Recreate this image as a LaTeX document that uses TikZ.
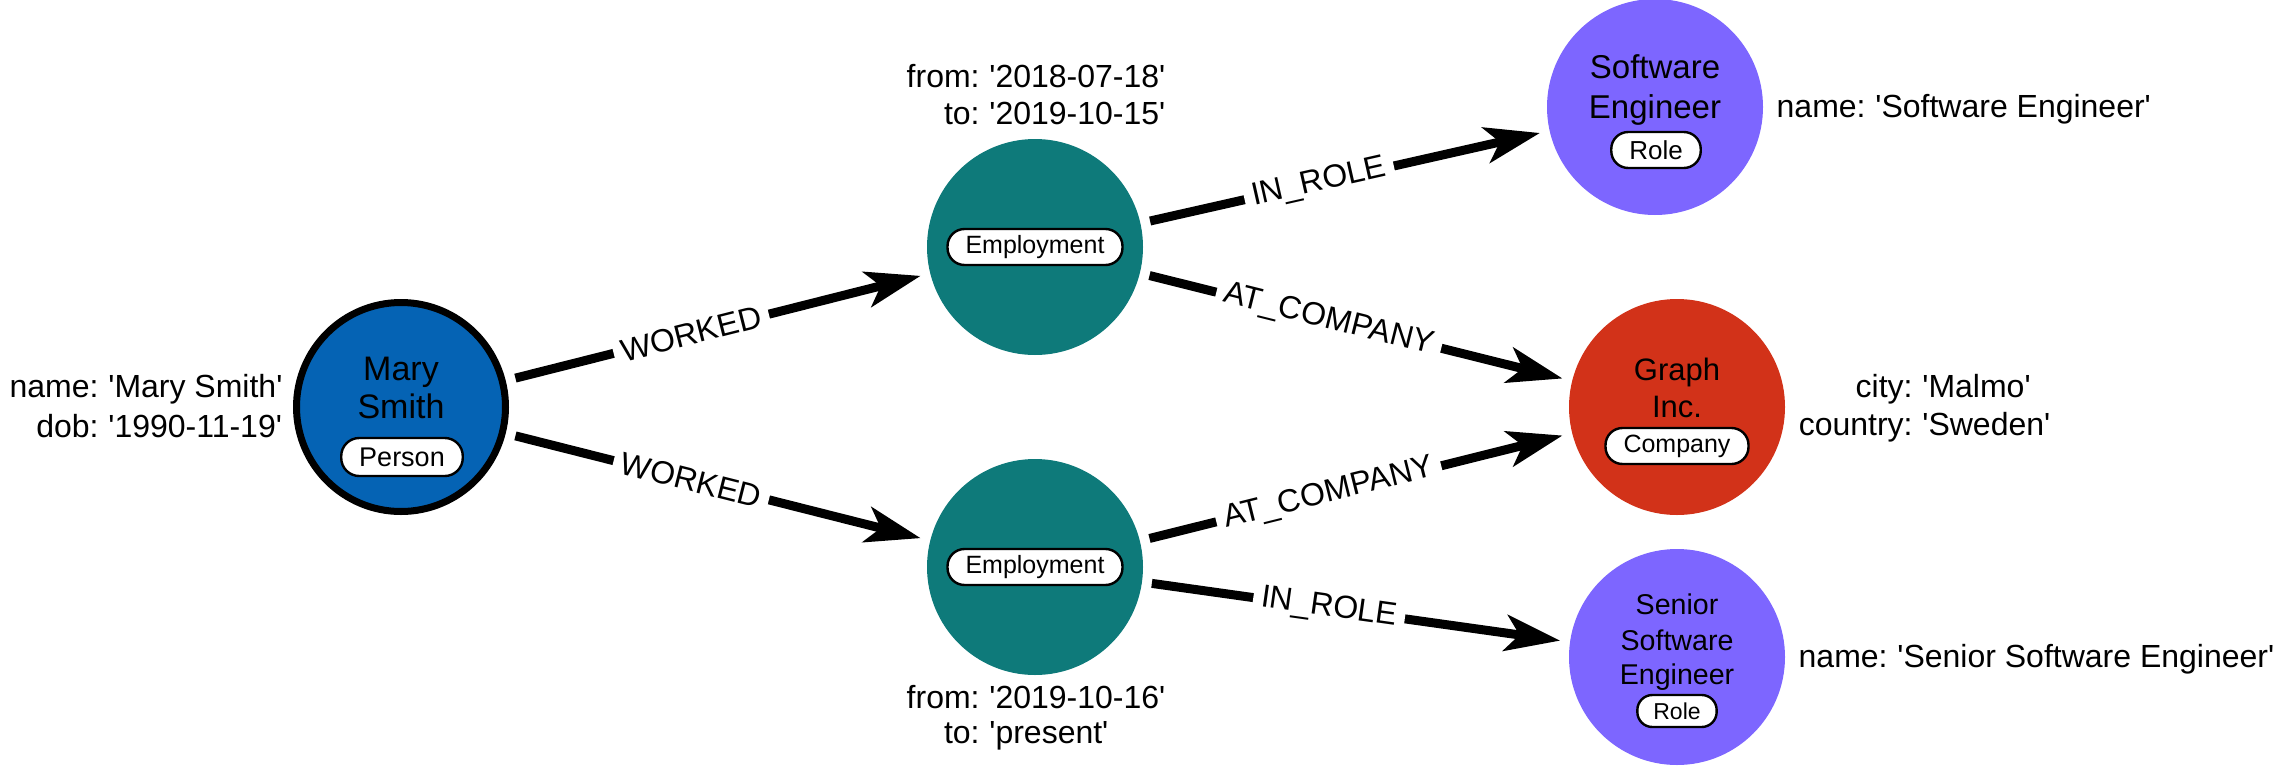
\documentclass[tikz,border=0pt]{standalone}
\usepackage{fontspec}
\setmainfont{Liberation Sans}
\usetikzlibrary{arrows.meta}
\definecolor{personblue}{HTML}{0563B4}
\definecolor{empteal}{HTML}{0E7A7A}
\definecolor{rolepurple}{HTML}{7D66FF}
\definecolor{companyred}{HTML}{D23219}
\newcommand{\sq}{\textquotesingle}
\begin{document}
\begin{tikzpicture}[x=0.5pt,y=-0.5pt,
  ent/.style={circle, inner sep=0pt, outer sep=0pt, minimum size=108pt},
  ttl/.style={inner sep=0pt, anchor=base, font=\fontsize{17}{20}\selectfont},
  badge/.style={draw, line width=1.2pt, fill=white, rounded corners=8.5pt, minimum height=18pt, inner xsep=9pt, inner ysep=0pt, font=\fontsize{13}{15}\selectfont},
  key/.style={inner sep=0pt, anchor=base east, font=\fontsize{16}{19}\selectfont},
  val/.style={inner sep=0pt, anchor=base west, font=\fontsize{16}{19}\selectfont},
  rel/.style={line width=4.5pt, -{Stealth[length=27.5pt, width=18pt, inset=7pt]}, shorten <=5pt, shorten >=5pt},
  lbl/.style={sloped, fill=white, inner xsep=4pt, inner ysep=2pt, pos=0.437, font=\fontsize{16}{19}\selectfont}
]
\useasboundingbox (0,0) rectangle (2282,766);

% Person
\node[ent, fill=personblue, draw=black, line width=3.5pt, outer sep=1.75pt, minimum size=104.5pt] (mary) at (401,407) {};
\node[ttl] (maryT1) at (401,380) {Mary};
\node[ttl] (maryT2) at (401,418) {Smith};
\node[badge, font=\fontsize{13.5}{15}\selectfont, minimum height=19pt, rounded corners=9pt] (maryB) at (402,457) {Person};
\node[key] (maryK1) at (99,397) {name:};
\node[val] (maryV1) at (108,397) {\sq Mary Smith\sq};
\node[key] (maryK2) at (99,437) {dob:};
\node[val] (maryV2) at (108,437) {\sq 1990-11-19\sq};

% Employment 1
\node[ent, fill=empteal] (emp1) at (1035,247) {};
\node[badge, font=\fontsize{12.5}{15}\selectfont] (emp1B) at (1035,247) {Employment};
\node[key] (emp1K1) at (980,87) {from:};
\node[val] (emp1V1) at (989,87) {\sq 2018-07-18\sq};
\node[key] (emp1K2) at (980,124) {to:};
\node[val] (emp1V2) at (989,124) {\sq 2019-10-15\sq};

% Employment 2
\node[ent, fill=empteal] (emp2) at (1035,567) {};
\node[badge, font=\fontsize{12.5}{15}\selectfont] (emp2B) at (1035,567) {Employment};
\node[key] (emp2K1) at (980,708) {from:};
\node[val] (emp2V1) at (989,708) {\sq 2019-10-16\sq};
\node[key] (emp2K2) at (980,743) {to:};
\node[val] (emp2V2) at (989,743) {\sq present\sq};

% Software Engineer
\node[ent, fill=rolepurple] (se) at (1655,107) {};
\node[ttl, font=\fontsize{16.5}{20}\selectfont] (seT1) at (1655,78) {Software};
\node[ttl, font=\fontsize{16.5}{20}\selectfont] (seT2) at (1655,118) {Engineer};
\node[badge] (seB) at (1656,150) {Role};
\node[key] (seK1) at (1866,117) {name:};
\node[val] (seV1) at (1875,117) {\sq Software Engineer\sq};

% Graph Inc.
\node[ent, fill=companyred] (graph) at (1677,407) {};
\node[ttl, font=\fontsize{15.5}{19}\selectfont] (grT1) at (1677,380) {Graph};
\node[ttl, font=\fontsize{15.5}{19}\selectfont] (grT2) at (1677,417) {Inc.};
\node[badge, font=\fontsize{12.5}{15}\selectfont] (grB) at (1677,446) {Company};
\node[key] (grK1) at (1913,397) {city:};
\node[val] (grV1) at (1922,397) {\sq Malmo\sq};
\node[key] (grK2) at (1913,435) {country:};
\node[val] (grV2) at (1922,435) {\sq Sweden\sq};

% Senior Software Engineer
\node[ent, fill=rolepurple] (sse) at (1677,657) {};
\node[ttl, font=\fontsize{14.3}{17}\selectfont] (sseT1) at (1677,614) {Senior};
\node[ttl, font=\fontsize{14.3}{17}\selectfont] (sseT2) at (1677,650) {Software};
\node[ttl, font=\fontsize{14.3}{17}\selectfont] (sseT3) at (1677,684) {Engineer};
\node[badge, font=\fontsize{11.5}{13}\selectfont, minimum height=16pt, rounded corners=7.5pt, inner xsep=8pt] (sseB) at (1677,711) {Role};
\node[key] (sseK1) at (1888,667) {name:};
\node[val] (sseV1) at (1897,667) {\sq Senior Software Engineer\sq};

% Relationships
\draw[rel] (mary) -- node[lbl] (l1) {WORKED} (emp1);
\draw[rel] (mary) -- node[lbl] (l2) {WORKED} (emp2);
\draw[rel] (emp1) -- node[lbl] (l3) {IN\_ROLE} (se);
\draw[rel] (emp1) -- node[lbl] (l4) {AT\_COMPANY} (graph);
\draw[rel] (emp2) -- node[lbl] (l5) {AT\_COMPANY} (graph);
\draw[rel] (emp2) -- node[lbl] (l6) {IN\_ROLE} (sse);
\end{tikzpicture}
\end{document}
